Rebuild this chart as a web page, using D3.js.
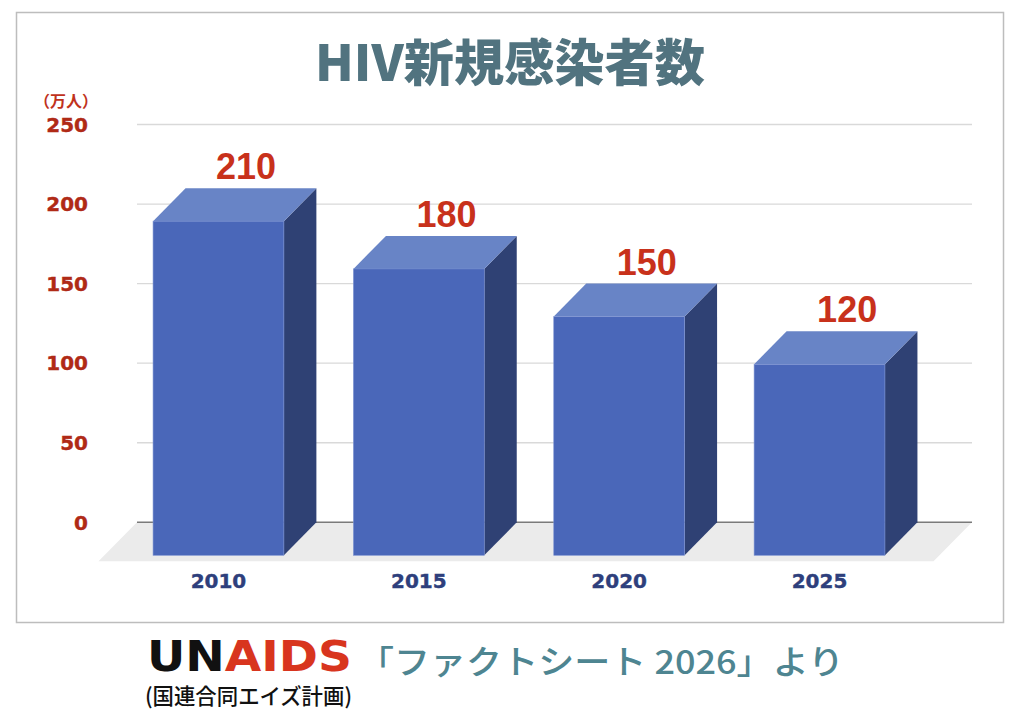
<!DOCTYPE html>
<html>
<head>
<meta charset="utf-8">
<script src="https://cdn.jsdelivr.net/npm/d3@7"></script>
<style>
  body { margin: 0; background: #fff; }
  svg { display: block; }
</style>
</head>
<body>
<div id="chart"></div>
<script>
// data
const years = ["2010", "2015", "2020", "2025"];
const infections = [210, 180, 150, 120]; // 万人
const yTicks = [0, 50, 100, 150, 200, 250];

const W = 1024, H = 714;
const depth = { dx: 32.5, dy: 33 };   // bar depth offset (front -> back)
const floorDepth = { dx: 38.5, dy: 39 };

const svg = d3.select("#chart").append("svg")
    .attr("width", W)
    .attr("height", H);

// frame
svg.append("rect")
    .attr("x", 16.5).attr("y", 12.5)
    .attr("width", 987).attr("height", 610)
    .attr("fill", "#fff")
    .attr("stroke", "#bdbdbd")
    .attr("stroke-width", 1.5);

// title
svg.append("text")
    .attr("x", 510).attr("y", 81)
    .attr("text-anchor", "middle")
    .attr("font-family", "'Noto Sans CJK JP', sans-serif")
    .attr("font-weight", 900)
    .attr("font-size", 50)
    .attr("fill", "#51737f")
    .attr("textLength", 390)
    .attr("lengthAdjust", "spacingAndGlyphs")
    .text("HIV新規感染者数");

// scales: y on the back wall, x on the front face of the bars
const y = d3.scaleLinear().domain([0, 250]).range([522.3, 124.5]);
const x = d3.scaleBand().domain(years).range([119, 919])
    .paddingInner(0.347).paddingOuter(0.17);

const wallLeft = 137, wallRight = 972;

// floor
const floor = [
    [wallLeft, y(0)], [wallRight, y(0)],
    [wallRight - floorDepth.dx, y(0) + floorDepth.dy],
    [wallLeft - floorDepth.dx, y(0) + floorDepth.dy]
];
svg.append("polygon")
    .attr("points", floor.map(p => p.join(",")).join(" "))
    .attr("fill", "#ebebeb");

// gridlines
svg.append("g").selectAll("line")
    .data(yTicks.filter(t => t > 0))
    .join("line")
    .attr("x1", wallLeft).attr("x2", wallRight)
    .attr("y1", d => y(d)).attr("y2", d => y(d))
    .attr("stroke", "#d9d9d9")
    .attr("stroke-width", 1.3);

svg.append("line")
    .attr("x1", wallLeft).attr("x2", wallRight)
    .attr("y1", y(0)).attr("y2", y(0))
    .attr("stroke", "#7a7a7a")
    .attr("stroke-width", 1.5);

// y tick labels
svg.append("g").selectAll("text")
    .data(yTicks)
    .join("text")
    .attr("x", 88)
    .attr("y", d => y(d))
    .attr("dy", "0.36em")
    .attr("text-anchor", "end")
    .attr("font-family", "'DejaVu Sans', sans-serif")
    .attr("font-weight", 700)
    .attr("font-size", 20)
    .attr("fill", "#b02a16")
    .attr("stroke", "#b02a16")
    .attr("stroke-width", 0.4)
    .text(d => d);

// unit
svg.append("text")
    .attr("x", 66).attr("y", 107)
    .attr("text-anchor", "middle")
    .attr("font-family", "'Noto Sans CJK JP', sans-serif")
    .attr("font-weight", 700)
    .attr("font-size", 16)
    .attr("fill", "#c0321c")
    .text("（万人）");

// bars
const rows = years.map((yr, i) => ({ year: yr, value: infections[i] }));

const bars = svg.append("g").selectAll("g")
    .data(rows)
    .join("g");

bars.each(function (d) {
    const g = d3.select(this);
    const x0 = x(d.year), x1 = x0 + x.bandwidth();
    const yTop = y(d.value) + depth.dy;     // front top
    const yBot = y(0) + depth.dy;           // front bottom

    // side
    g.append("polygon")
        .attr("points", [
            [x1, yTop], [x1 + depth.dx, yTop - depth.dy],
            [x1 + depth.dx, yBot - depth.dy], [x1, yBot]
        ].map(p => p.join(",")).join(" "))
        .attr("fill", "#2f4174");

    // top
    g.append("polygon")
        .attr("points", [
            [x0, yTop], [x1, yTop],
            [x1 + depth.dx, yTop - depth.dy], [x0 + depth.dx, yTop - depth.dy]
        ].map(p => p.join(",")).join(" "))
        .attr("fill", "#6884c6");

    // front
    g.append("rect")
        .attr("x", x0).attr("y", yTop)
        .attr("width", x.bandwidth())
        .attr("height", yBot - yTop)
        .attr("fill", "#4a67b9")
        .attr("stroke", "#7d93d2")
        .attr("stroke-width", 0.6);
});

// value labels
svg.append("g").selectAll("text")
    .data(rows)
    .join("text")
    .attr("x", d => x(d.year) + x.bandwidth() / 2 + depth.dx * 0.85)
    .attr("y", d => y(d.value) - 9)
    .attr("text-anchor", "middle")
    .attr("font-family", "'Liberation Sans', Arial, sans-serif")
    .attr("font-weight", 700)
    .attr("font-size", 36)
    .attr("fill", "#c8311b")
    .text(d => d.value);

// category labels
svg.append("g").selectAll("text")
    .data(rows)
    .join("text")
    .attr("x", d => x(d.year) + x.bandwidth() / 2)
    .attr("y", 587.7)
    .attr("text-anchor", "middle")
    .attr("font-family", "'DejaVu Sans', sans-serif")
    .attr("font-weight", 700)
    .attr("font-size", 20)
    .attr("fill", "#2e3f7c")
    .attr("stroke", "#2e3f7c")
    .attr("stroke-width", 0.4)
    .text(d => d.year);

// footer
const logo = svg.append("text")
    .attr("x", 147).attr("y", 670.7)
    .attr("font-family", "'DejaVu Sans', sans-serif")
    .attr("font-weight", 700)
    .attr("font-size", 43.5)
    .attr("textLength", 205)
    .attr("lengthAdjust", "spacingAndGlyphs");
logo.append("tspan").attr("fill", "#111").text("UN");
logo.append("tspan").attr("fill", "#d8351e").text("AIDS");

svg.append("text")
    .attr("x", 145).attr("y", 704)
    .attr("font-family", "'Noto Sans CJK JP', sans-serif")
    .attr("font-weight", 500)
    .attr("font-size", 22)
    .attr("fill", "#111")
    .attr("textLength", 207)
    .attr("lengthAdjust", "spacingAndGlyphs")
    .text("(国連合同エイズ計画)");

svg.append("text")
    .attr("x", 358).attr("y", 674)
    .attr("font-family", "'Noto Sans CJK JP', sans-serif")
    .attr("font-weight", 500)
    .attr("font-size", 33)
    .attr("fill", "#4e8591")
    .attr("textLength", 486)
    .attr("lengthAdjust", "spacingAndGlyphs")
    .text("「ファクトシート 2026」より");
</script>
</body>
</html>
